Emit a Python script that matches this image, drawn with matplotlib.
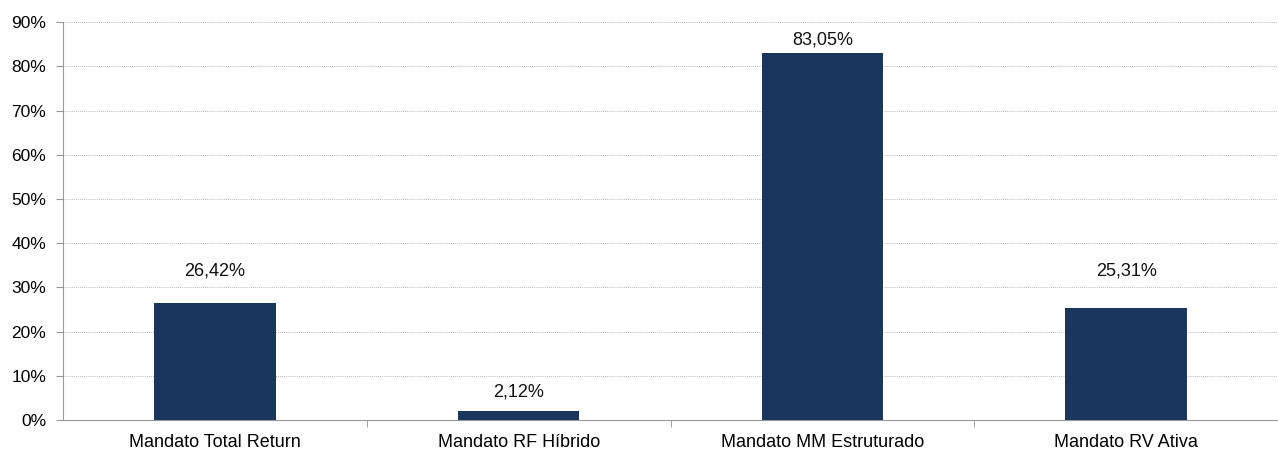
import matplotlib.pyplot as plt
from matplotlib.ticker import FixedLocator

categories = ["Mandato Total Return", "Mandato RF Híbrido", "Mandato MM Estruturado", "Mandato RV Ativa"]
values = [26.42, 2.12, 83.05, 25.31]
labels = ["26,42%", "2,12%", "83,05%", "25,31%"]

# label offsets above the bar tops, in points (as placed in the original)
label_offsets = [32, 19, 13, 37]

plt.rcParams["font.family"] = ["Liberation Sans", "DejaVu Sans"]

fig = plt.figure(figsize=(12.78, 4.51), dpi=100)
ax = fig.add_axes([0.0493, 0.0687, 0.9507, 0.8823])

x = list(range(len(categories)))
ax.bar(x, values, width=0.4, color="#1a365d", zorder=3)
for xi, v, lab, off in zip(x, values, labels, label_offsets):
    ax.annotate(lab, (xi, v), xytext=(0, off * 0.72), textcoords="offset points",
                ha="center", va="center", fontsize=13, color="#111111")

ax.set_xlim(-0.5, 3.5)
ax.set_ylim(0, 90)
ax.set_yticks(range(0, 91, 10))
ax.set_yticklabels([f"{t}%" for t in range(0, 91, 10)], fontsize=12.5)
ax.set_xticks(x)
ax.set_xticklabels(categories, fontsize=13)
ax.xaxis.set_minor_locator(FixedLocator([0.5, 1.5, 2.5, 3.5]))
ax.tick_params(axis="x", which="major", length=0, pad=10)
ax.tick_params(axis="x", which="minor", length=5, color="#999999")
ax.tick_params(axis="y", length=5, color="#999999", pad=7)

ax.yaxis.grid(True, linestyle=(0, (1, 1.5)), color="#a0a0a0", linewidth=0.6, zorder=0)
for s in ["top", "right"]:
    ax.spines[s].set_visible(False)
ax.spines["left"].set_color("#999999")
ax.spines["bottom"].set_color("#999999")

fig.savefig("out.png", dpi=100)
